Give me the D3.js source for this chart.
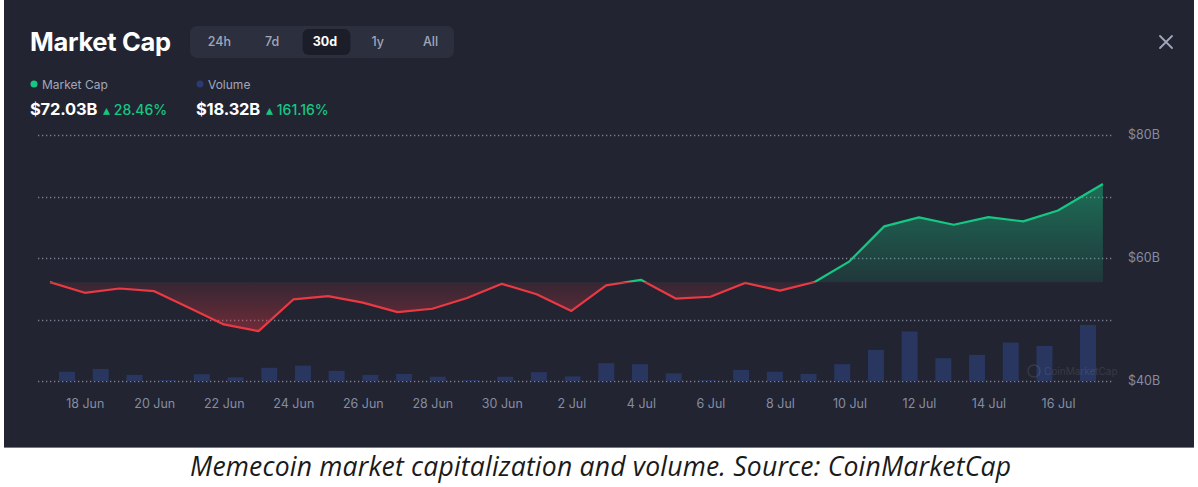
<!DOCTYPE html>
<html>
<head>
<meta charset="utf-8">
<script src="https://cdn.jsdelivr.net/npm/d3@7"></script>
<style>
  body { margin: 0; background: #ffffff; }
  svg { display: block; font-family: Inter, "Noto Sans", sans-serif; }
  .caption { font-family: "Open Sans", sans-serif; font-style: italic; }
</style>
</head>
<body>
<div id="chart"></div>
<script>
// daily points, last one is the intraday "now" value
var days = ["2024-06-17", "2024-06-18", "2024-06-19", "2024-06-20", "2024-06-21", "2024-06-22",
            "2024-06-23", "2024-06-24", "2024-06-25", "2024-06-26", "2024-06-27", "2024-06-28",
            "2024-06-29", "2024-06-30", "2024-07-01", "2024-07-02", "2024-07-03", "2024-07-04",
            "2024-07-05", "2024-07-06", "2024-07-07", "2024-07-08", "2024-07-09", "2024-07-10",
            "2024-07-11", "2024-07-12", "2024-07-13", "2024-07-14", "2024-07-15", "2024-07-16",
            "2024-07-17T07:00"];

// market cap, $B
var marketCap = [56.07, 54.34, 55.04, 54.6, 51.9, 49.2,
                 48.1, 53.26, 53.8, 52.75, 51.2, 51.75,
                 53.5, 55.8, 54.1, 51.4, 55.55, 56.45,
                 53.4, 53.7, 55.95, 54.7, 56.1, 59.46,
                 65.14, 66.6, 65.4, 66.65, 65.95, 67.73,
                 72.03];

// volume, $B
var volume = [3.0, 3.9, 2.0, 0.3, 2.2, 1.2,
              4.3, 5.0, 3.3, 2.0, 2.3, 1.4,
              0.3, 1.4, 2.9, 1.5, 5.8, 5.5,
              2.5, 0.3, 3.6, 3.0, 2.3, 5.5,
              10.1, 16.1, 7.4, 8.5, 12.5, 11.4,
              18.2];

var tickDates = ["2024-06-18", "2024-06-20", "2024-06-22", "2024-06-24", "2024-06-26", "2024-06-28",
                 "2024-06-30", "2024-07-02", "2024-07-04", "2024-07-06", "2024-07-08", "2024-07-10",
                 "2024-07-12", "2024-07-14", "2024-07-16"];
var gridValues = [40, 50, 60, 70, 80];
var labelValues = [40, 60, 80];
var ranges = ["24h", "7d", "30d", "1y", "All"];
var activeRange = "30d";

var legendItems = [
    { name: "Market Cap", value: "$72.03B", change: "28.46%" },
    { name: "Volume", value: "$18.32B", change: "161.16%" }
];
var caption = "Memecoin market capitalization and volume. Source: CoinMarketCap";

var width = 1198, height = 487;
var bg = "#222431", green = "#16c784", red = "#ea3943", grey = "#858ca2", volColor = "#283660";

var parseDay = d3.timeParse("%Y-%m-%d"),
    parseTime = d3.timeParse("%Y-%m-%dT%H:%M");
function parse(s) { return s.length > 10 ? parseTime(s) : parseDay(s); }

var data = days.map(function(d, i) {
    return { date: parse(d), cap: marketCap[i], vol: volume[i] };
});
var ticks = tickDates.map(parse);

var svg = d3.select("#chart").append("svg")
    .attr("width", width)
    .attr("height", height);

svg.append("rect")
    .attr("x", 4).attr("y", 0)
    .attr("width", 1190).attr("height", 447)
    .attr("fill", bg);
svg.append("line")
    .attr("x1", 4).attr("x2", 1194).attr("y1", 447.5).attr("y2", 447.5)
    .attr("stroke", "#7a7a7a");

var x = d3.scaleTime()
    .domain([parse("2024-06-17"), parse("2024-07-16")])
    .range([50, 1058]);

// volume bars sit inset from the line's ends
var xBar = d3.scaleTime()
    .domain(d3.extent(data, function(d) { return d.date; }))
    .range([67, 1088]);

var y = d3.scaleLinear().domain([40, 80]).range([381, 135]);
var yVol = d3.scaleLinear().domain([0, 18.2]).range([381, 325]);

var base = data[0].cap,
    yBase = y(base);

// grid
svg.append("g").selectAll("line")
    .data(gridValues)
    .enter().append("line")
    .attr("x1", 38).attr("x2", 1113)
    .attr("y1", function(d) { return Math.round(y(d)) + 0.5; })
    .attr("y2", function(d) { return Math.round(y(d)) + 0.5; })
    .attr("stroke", "#9096ab")
    .attr("stroke-opacity", 0.8)
    .attr("stroke-width", 1.4)
    .attr("stroke-dasharray", "1.3,2.7");

svg.append("g").selectAll("text")
    .data(labelValues)
    .enter().append("text")
    .attr("x", 1128)
    .attr("y", function(d) { return y(d); })
    .attr("dy", "0.35em")
    .attr("fill", grey)
    .style("font-size", "12.5px")
    .text(function(d) { return "$" + d + "B"; });

// volume bars
svg.append("g").selectAll("rect")
    .data(data)
    .enter().append("rect")
    .attr("x", function(d) { return xBar(d.date) - 8; })
    .attr("y", function(d) { return yVol(d.vol); })
    .attr("width", 16)
    .attr("height", function(d) { return yVol(0) - yVol(d.vol); })
    .attr("fill", volColor);

// watermark
var wm = svg.append("g").attr("opacity", 0.09);
wm.append("circle").attr("cx", 1034).attr("cy", 371).attr("r", 6)
    .attr("fill", "none").attr("stroke", "#fff").attr("stroke-width", 1.5);
wm.append("text").attr("x", 1044).attr("y", 375)
    .attr("fill", "#fff").style("font-size", "10px").text("CoinMarketCap");

// gradients and clips around the baseline
var defs = svg.append("defs");
var gUp = defs.append("linearGradient").attr("id", "gUp")
    .attr("gradientUnits", "userSpaceOnUse")
    .attr("x1", 0).attr("x2", 0).attr("y1", y(d3.max(marketCap))).attr("y2", yBase);
gUp.append("stop").attr("offset", 0).attr("stop-color", green).attr("stop-opacity", 0.45);
gUp.append("stop").attr("offset", 1).attr("stop-color", green).attr("stop-opacity", 0.12);

var gDown = defs.append("linearGradient").attr("id", "gDown")
    .attr("gradientUnits", "userSpaceOnUse")
    .attr("x1", 0).attr("x2", 0).attr("y1", yBase).attr("y2", y(d3.min(marketCap)));
gDown.append("stop").attr("offset", 0).attr("stop-color", red).attr("stop-opacity", 0.1);
gDown.append("stop").attr("offset", 1).attr("stop-color", red).attr("stop-opacity", 0.38);

defs.append("clipPath").attr("id", "clipUp")
    .append("rect").attr("x", 0).attr("y", 0).attr("width", width).attr("height", yBase);
defs.append("clipPath").attr("id", "clipDown")
    .append("rect").attr("x", 0).attr("y", yBase).attr("width", width).attr("height", height - yBase);

var area = d3.area()
    .x(function(d) { return x(d.date); })
    .y0(yBase)
    .y1(function(d) { return y(d.cap); });

var line = d3.line()
    .x(function(d) { return x(d.date); })
    .y(function(d) { return y(d.cap); });

svg.append("path").datum(data)
    .attr("clip-path", "url(#clipUp)")
    .attr("d", area).attr("fill", "url(#gUp)");
svg.append("path").datum(data)
    .attr("clip-path", "url(#clipDown)")
    .attr("d", area).attr("fill", "url(#gDown)");

svg.append("path").datum(data)
    .attr("clip-path", "url(#clipUp)")
    .attr("d", line).attr("fill", "none")
    .attr("stroke", green).attr("stroke-width", 2.2).attr("stroke-linejoin", "round");
svg.append("path").datum(data)
    .attr("clip-path", "url(#clipDown)")
    .attr("d", line).attr("fill", "none")
    .attr("stroke", red).attr("stroke-width", 2.2).attr("stroke-linejoin", "round");

// x axis
var xAxis = svg.append("g")
    .attr("transform", "translate(0,396)")
    .call(d3.axisBottom(x).tickValues(ticks).tickFormat(d3.timeFormat("%-d %b")).tickSize(0));
xAxis.select(".domain").remove();
xAxis.selectAll("text")
    .attr("fill", grey)
    .style("font-size", "12.5px")
    .style("font-family", "Inter, sans-serif");

// header
svg.append("text")
    .attr("x", 30).attr("y", 51)
    .attr("fill", "#ffffff")
    .style("font-size", "25.5px")
    .style("font-weight", 700)
    .style("letter-spacing", "-0.3px")
    .text("Market Cap");

var tab = d3.scaleBand().domain(ranges).range([193, 457]);
svg.append("rect")
    .attr("x", 190).attr("y", 26).attr("width", 264).attr("height", 32).attr("rx", 7)
    .attr("fill", "#2c2f3e");
svg.append("rect")
    .attr("x", tab(activeRange) + 4).attr("y", 29).attr("width", tab.bandwidth() - 5).attr("height", 26).attr("rx", 6)
    .attr("fill", "#1b1d28");
svg.append("g").selectAll("text")
    .data(ranges)
    .enter().append("text")
    .attr("x", function(d) { return tab(d) + tab.bandwidth() / 2; })
    .attr("y", 46)
    .attr("text-anchor", "middle")
    .attr("fill", function(d) { return d === activeRange ? "#ffffff" : "#a1a7bb"; })
    .style("font-size", "12.5px")
    .style("font-weight", function(d) { return d === activeRange ? 700 : 500; })
    .text(function(d) { return d; });

// close icon
svg.append("path")
    .attr("d", "M1160,36L1172,48M1172,36L1160,48")
    .attr("stroke", "#a1a7bb").attr("stroke-width", 1.8).attr("stroke-linecap", "round");

// legend
var legendX = [30, 196], dotColors = [green, "#2a3a72"];
var leg = svg.append("g").selectAll("g")
    .data(legendItems)
    .enter().append("g")
    .attr("transform", function(d, i) { return "translate(" + legendX[i] + ",0)"; });
leg.append("circle").attr("cx", 4).attr("cy", 84).attr("r", 3.5)
    .attr("fill", function(d, i) { return dotColors[i]; });
leg.append("text").attr("x", 12).attr("y", 88.5)
    .attr("fill", "#a1a7bb").style("font-size", "12px")
    .text(function(d) { return d.name; });
leg.append("text").attr("class", "val").attr("x", 0).attr("y", 115)
    .attr("fill", "#ffffff").style("font-size", "16.5px").style("font-weight", 700)
    .style("letter-spacing", "-0.2px")
    .text(function(d) { return d.value; });
leg.append("text")
    .attr("x", function() {
        return this.parentNode.querySelector(".val").getComputedTextLength() + 6;
    })
    .attr("y", 115)
    .attr("fill", green).style("font-size", "14px").style("font-weight", 500)
    .text(function(d) { return "\u25B4 " + d.change; });

// caption
svg.append("text")
    .attr("class", "caption")
    .attr("x", 190).attr("y", 476)
    .attr("textLength", 821)
    .attr("lengthAdjust", "spacing")
    .attr("fill", "#1a1a1a")
    .style("font-size", "26.5px")
    .text(caption);
</script>
</body>
</html>
